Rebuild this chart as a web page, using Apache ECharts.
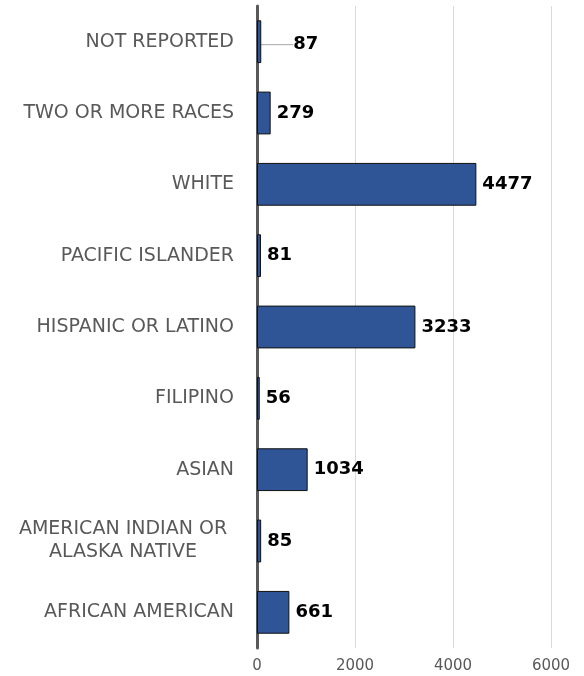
<!DOCTYPE html>
<html><head><meta charset="utf-8">
<script src="https://cdn.jsdelivr.net/npm/echarts@6/dist/echarts.min.js"></script>
<style>html,body{margin:0;padding:0;background:#fff}#c{width:584px;height:676px}</style>
</head><body><div id="c"></div>
<script>
const categories = ['AFRICAN AMERICAN','AMERICAN INDIAN OR\nALASKA NATIVE','ASIAN','FILIPINO','HISPANIC OR LATINO','PACIFIC ISLANDER','WHITE','TWO OR MORE RACES','NOT REPORTED'];
const values = [661, 85, 1034, 56, 3233, 81, 4477, 279, 87];
const xTicks = [0, 2000, 4000, 6000];
const movedLabelIndex = 8;

const seriesData = values.map((v, i) => i === movedLabelIndex
  ? {value: v, labelLine: {show: true, lineStyle: {color: '#a6a6a6', width: 1}}}
  : {value: v, labelLine: {show: false}});

const chart = echarts.init(document.getElementById('c'));
chart.setOption({
  animation: false,
  grid: {left: 257, right: 33, top: 6, bottom: 28, containLabel: false},
  xAxis: {
    type: 'value', min: xTicks[0], max: xTicks[xTicks.length-1], interval: 2000,
    axisLine: {show: false}, axisTick: {show: false},
    splitLine: {lineStyle: {color: '#d9d9d9', width: 1}},
    axisLabel: {color: '#595959', fontSize: 15, fontFamily: 'DejaVu Sans', margin: 11, formatter: v => String(v)}
  },
  yAxis: {
    type: 'category', data: categories,
    axisLine: {lineStyle: {color: '#595959', width: 3}},
    axisTick: {show: false},
    axisLabel: {
      color: '#595959', fontSize: 19, fontFamily: 'DejaVu Sans', margin: 23, align: 'right', lineHeight: 23,
      formatter: function (v) {
        if (v.indexOf('\n') >= 0) {
          return v.split('\n').map(s => '{c|' + s + '}').join('\n');
        }
        return v;
      },
      rich: {c: {color: '#595959', fontSize: 19, fontFamily: 'DejaVu Sans', width: 222, align: 'center', lineHeight: 23}}
    }
  },
  series: [{
    type: 'bar', data: seriesData, barWidth: '60%',
    itemStyle: {color: '#2f5597', borderColor: '#111', borderWidth: 1},
    label: {show: true, position: 'right', distance: 6, color: '#000', fontWeight: 'bold', fontSize: 18, fontFamily: 'DejaVu Sans'},
    labelLayout: function (p) { return p.dataIndex === movedLabelIndex ? {dx: 26, dy: 3} : {}; }
  }]
});
</script></body></html>
